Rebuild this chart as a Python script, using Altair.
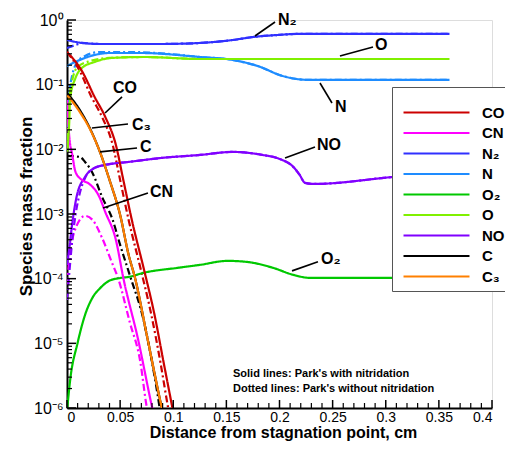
import altair as alt
import pandas as pd

# ---------------- data (x in cm, y as log10 of mass fraction) ----------------
species_order = ["CO", "CN", "N\u2082", "N", "O\u2082", "O", "NO", "C", "C\u2083"]
species_colors = ["#CC0000", "#FF00FF", "#3030FF", "#1E8CFF", "#00C800",
                  "#80F000", "#8000FF", "#000000", "#FF8000"]

CO_x = [0, 0.014, 0.026, 0.036, 0.046, 0.053, 0.061, 0.073, 0.082, 0.091, 0.099, 0.104]
CO_lg = [-0.495, -0.788, -1.190, -1.499, -1.932, -2.473, -3.091, -3.895, -4.529, -5.301, -5.981, -6.414]
COd_x = [0, 0.012, 0.023, 0.033, 0.043, 0.050, 0.058, 0.070, 0.079, 0.088, 0.095, 0.100]
COd_lg = [-0.495, -0.788, -1.190, -1.499, -1.932, -2.473, -3.091, -3.895, -4.529, -5.301, -5.981, -6.414]

CN_x = [0, 0.002, 0.005, 0.008, 0.014, 0.021, 0.030, 0.036, 0.046, 0.053, 0.067, 0.080, 0.085]
CN_lg = [-1.236, -1.777, -2.087, -2.349, -2.473, -2.535, -2.720, -2.968, -3.400, -3.988, -4.946, -5.981, -6.337]
CNd_x = [0, 0.002, 0.005, 0.009, 0.017, 0.024, 0.033, 0.042, 0.048, 0.059, 0.069, 0.075, 0.080]
CNd_lg = [-4.096, -3.740, -3.400, -3.184, -3.029, -3.091, -3.369, -3.740, -3.988, -4.668, -5.286, -5.981, -6.337]

N2_x = [0, 0.014, 0.031, 0.088, 0.125, 0.156, 0.175, 0.198, 0.216, 0.360]
N2_lg = [-0.309, -0.355, -0.371, -0.371, -0.355, -0.309, -0.263, -0.232, -0.216, -0.216]
N2d_x = [0, 0.008, 0.014, 0.031, 0.088, 0.125, 0.156, 0.175, 0.198, 0.216, 0.360]
N2d_lg = [-0.433, -0.386, -0.355, -0.371, -0.371, -0.355, -0.309, -0.263, -0.232, -0.216, -0.216]

N_x = [0, 0.012, 0.026, 0.040, 0.069, 0.125, 0.156, 0.182, 0.200, 0.216, 0.229, 0.360]
N_lg = [-0.711, -0.618, -0.541, -0.510, -0.510, -0.572, -0.618, -0.726, -0.850, -0.912, -0.927, -0.927]
Nd_x = [0, 0.002, 0.005, 0.009, 0.017, 0.031, 0.059, 0.097, 0.125, 0.156, 0.182, 0.200, 0.216, 0.229, 0.360]
Nd_lg = [-1.654, -1.159, -0.850, -0.665, -0.556, -0.495, -0.495, -0.526, -0.572, -0.618, -0.726, -0.850, -0.912, -0.927, -0.927]

O2_x = [0, 0.003, 0.010, 0.017, 0.0245, 0.031, 0.040, 0.050, 0.059, 0.072, 0.104, 0.125, 0.151, 0.169, 0.194, 0.213, 0.229, 0.360]
O2_lg = [-6.05, -5.564, -4.992, -4.560, -4.280, -4.150, -4.030, -3.990, -3.970, -3.910, -3.833, -3.787, -3.725, -3.740, -3.833, -3.941, -3.988, -3.988]

O_x = [0, 0.002, 0.003, 0.008, 0.014, 0.026, 0.042, 0.073, 0.125, 0.360]
O_lg = [-2.056, -1.623, -1.206, -0.896, -0.742, -0.649, -0.587, -0.572, -0.603, -0.603]
Od_x = [0, 0.002, 0.005, 0.010, 0.022, 0.040, 0.073, 0.125, 0.360]
Od_lg = [-1.855, -1.236, -0.927, -0.726, -0.634, -0.587, -0.572, -0.603, -0.603]

NO_x = [0, 0.002, 0.005, 0.009, 0.017, 0.026, 0.036, 0.058, 0.089, 0.125, 0.156, 0.184, 0.200, 0.213, 0.219, 0.224, 0.232, 0.307, 0.360]
NO_lg = [-3.787, -3.555, -3.138, -2.736, -2.427, -2.287, -2.241, -2.195, -2.133, -2.087, -2.040, -2.087, -2.148, -2.272, -2.396, -2.519, -2.535, -2.427, -2.349]
NOd_x = [0, 0.002, 0.005, 0.008, 0.011, 0.017, 0.026, 0.036, 0.058, 0.089, 0.125, 0.156, 0.184, 0.200, 0.213, 0.219, 0.224, 0.232, 0.307, 0.360]
NOd_lg = [-4.328, -3.941, -3.400, -3.014, -2.751, -2.442, -2.287, -2.241, -2.195, -2.133, -2.087, -2.040, -2.087, -2.148, -2.272, -2.396, -2.519, -2.535, -2.427, -2.349]

Cd_x = [0, 0.012, 0.017, 0.024, 0.033, 0.043, 0.050, 0.059, 0.072, 0.080, 0.087, 0.090]
Cd_lg = [-2.102, -2.117, -2.195, -2.365, -2.736, -3.091, -3.478, -3.941, -4.637, -5.286, -5.981, -6.337]

C3_x = [0, 0.012, 0.022, 0.031, 0.040, 0.050, 0.058, 0.064, 0.076, 0.089, 0.094]
C3_lg = [-1.159, -1.422, -1.700, -2.040, -2.473, -3.014, -3.632, -3.988, -4.946, -5.981, -6.337]
C_x = [0, 0.012, 0.022, 0.031, 0.040, 0.050, 0.058, 0.064, 0.076, 0.089, 0.094]
C_lg = [-1.128, -1.391, -1.690, -2.040, -2.473, -3.014, -3.632, -3.988, -4.946, -5.981, -6.337]

series = [
    ("CN", "dotted", CNd_x, CNd_lg), ("NO", "dotted", NOd_x, NOd_lg),
    ("N\u2082", "dotted", N2d_x, N2d_lg), ("N", "dotted", Nd_x, Nd_lg),
    ("O", "dotted", Od_x, Od_lg), ("CO", "dotted", COd_x, COd_lg),
    ("C", "dotted", Cd_x, Cd_lg),
    ("O\u2082", "solid", O2_x, O2_lg), ("NO", "solid", NO_x, NO_lg),
    ("CN", "solid", CN_x, CN_lg), ("N\u2082", "solid", N2_x, N2_lg),
    ("N", "solid", N_x, N_lg), ("O", "solid", O_x, O_lg),
    ("C", "solid", C_x, C_lg), ("C\u2083", "solid", C3_x, C3_lg),
    ("CO", "solid", CO_x, CO_lg),
]
rows = []
for i, (sp, st, xs, lgs) in enumerate(series):
    for x, l in zip(xs, lgs):
        rows.append({"x": x, "y": 10 ** l, "species": sp, "style": st, "key": f"{i:02d}"})
df = pd.DataFrame(rows)

# annotation labels (left edge, vertical middle) and leader lines
ann_text = ["CO", "C\u2083", "C", "CN", "N\u2082", "O", "N", "NO", "O\u2082"]
ann_x = [0.0433, 0.0612, 0.0687, 0.0781, 0.1986, 0.2899, 0.2522, 0.2353, 0.2390]
ann_y = [0.0889, 0.0238, 0.0109, 0.00220, 1.0, 0.411, 0.0452, 0.0117, 0.000202]
lead_x = [0.0518, 0.0574, 0.0659, 0.0762, 0.1958, 0.2880, 0.2494, 0.2334, 0.2362]
lead_y = [0.0646, 0.0247, 0.01051, 0.00212, 0.931, 0.383, 0.0521, 0.0109, 0.000182]
lead_x2 = [0.0358, 0.0235, 0.0311, 0.0339, 0.1769, 0.2569, 0.2381, 0.2052, 0.2118]
lead_y2 = [0.0365, 0.0214, 0.00912, 0.00124, 0.566, 0.278, 0.106, 0.00736, 0.000132]

note_text = ["Solid lines: Park's with nitridation", "Dotted lines: Park's without nitridation"]
note_x = [0.1562, 0.1562]
note_y = [3.38e-6, 1.98e-6]

x_ticks_major = [0, 0.05, 0.1, 0.15, 0.2, 0.25, 0.3, 0.35, 0.4]
x_ticks_minor = [0.01, 0.02, 0.03, 0.04, 0.06, 0.07, 0.08, 0.09, 0.11, 0.12, 0.13, 0.14,
                 0.16, 0.17, 0.18, 0.19, 0.21, 0.22, 0.23, 0.24, 0.26, 0.27, 0.28, 0.29,
                 0.31, 0.32, 0.33, 0.34, 0.36, 0.37, 0.38, 0.39]
y_ticks_major = [1e-6, 1e-5, 1e-4, 1e-3, 1e-2, 1e-1, 1]
y_ticks_minor = [m * d for d in [1e-6, 1e-5, 1e-4, 1e-3, 1e-2, 1e-1] for m in range(2, 10)]

FONT = "Liberation Sans"
W, H = 425, 388

xscale = alt.Scale(domain=[0, 0.4], nice=False)
yscale = alt.Scale(type="log", domain=[1e-6, 1], nice=False)

lines = alt.Chart(df).mark_line(strokeWidth=2.2, clip=True, interpolate="monotone").encode(
    x=alt.X("x:Q", scale=xscale, axis=alt.Axis(
        values=x_ticks_major, format="~g", ticks=False, tickSize=0, grid=False,
        domainColor="black", domainWidth=2, labelFont=FONT, labelFontSize=14,
        labelColor="black", labelPadding=2,
        title="Distance from stagnation point, cm", titleFont=FONT, titleFontSize=16,
        titleFontWeight="bold", titleColor="black", titleX=216, titleY=24,
        titleBaseline="middle")),
    y=alt.Y("y:Q", scale=yscale, axis=alt.Axis(
        values=y_ticks_major, ticks=False, tickSize=0, grid=False,
        labelExpr="['10\u2070','10\u207b\u00b9','10\u207b\u00b2','10\u207b\u00b3','10\u207b\u2074','10\u207b\u2075','10\u207b\u2076'][round(-log(datum.value)/LN10)]",
        domainColor="black", domainWidth=2, labelFont=FONT, labelFontSize=16,
        labelColor="black", labelPadding=4,
        title="Species mass fraction", titleFont=FONT, titleFontSize=17,
        titleFontWeight="bold", titleColor="black", titleX=-41, titleY=186,
        titleAngle=-90, titleBaseline="middle")),
    color=alt.Color("species:N", scale=alt.Scale(domain=species_order, range=species_colors),
                    legend=alt.Legend(
                        orient="none", legendX=325, legendY=67, title=" ",
                        titleFontSize=6, titlePadding=4, padding=6,
                        symbolType="M-4,0H4", symbolSize=272, symbolStrokeWidth=2.2,
                        symbolOffset=29, labelOffset=36, rowPadding=2.5,
                        labelFont=FONT, labelFontSize=15, labelFontWeight="bold",
                        labelColor="black", strokeColor="#555555", fillColor="white")),
    strokeDash=alt.StrokeDash("style:N", scale=alt.Scale(domain=["solid", "dotted"],
                              range=[[1, 0], [7, 3, 2, 3]]), legend=None),
    detail="key:N",
)

ytick_df = pd.DataFrame({"y": y_ticks_major + y_ticks_minor,
                         "len": ["major"] * len(y_ticks_major) + ["minor"] * len(y_ticks_minor)})
ytick_major = alt.Chart(ytick_df[ytick_df["len"] == "major"]).mark_rule(color="black", strokeWidth=1.5).encode(
    y="y:Q", x=alt.value(0), x2=alt.value(9))
ytick_minor = alt.Chart(ytick_df[ytick_df["len"] == "minor"]).mark_rule(color="black", strokeWidth=1.2).encode(
    y="y:Q", x=alt.value(0), x2=alt.value(5))

xtick_major = alt.Chart(pd.DataFrame({"x": x_ticks_major})).mark_rule(color="black", strokeWidth=1.5).encode(
    x="x:Q", y=alt.value(H), y2=alt.value(H - 8))
xtick_minor = alt.Chart(pd.DataFrame({"x": x_ticks_minor})).mark_rule(color="black", strokeWidth=1.2).encode(
    x="x:Q", y=alt.value(H), y2=alt.value(H - 5))

ann_df = pd.DataFrame({"x": ann_x, "y": ann_y, "label": ann_text})
lead_df = pd.DataFrame({"x": lead_x, "y": lead_y, "x2": lead_x2, "y2": lead_y2})
ann = alt.Chart(ann_df).mark_text(align="left", baseline="middle", font=FONT, fontSize=16,
                                  fontWeight="bold", color="black").encode(x="x:Q", y="y:Q", text="label:N")
leads = alt.Chart(lead_df).mark_rule(color="black", strokeWidth=1.6).encode(
    x="x:Q", y="y:Q", x2="x2:Q", y2="y2:Q")

note_df = pd.DataFrame({"x": note_x, "y": note_y, "label": note_text})
notes = alt.Chart(note_df).mark_text(align="left", baseline="middle", font=FONT, fontSize=11,
                                     fontWeight="bold", color="black").encode(x="x:Q", y="y:Q", text="label:N")

# svg kept to 497 x 434 so the page neither shrinks nor scrolls it
chart = alt.layer(lines, leads, ann, notes, ytick_major, ytick_minor, xtick_major, xtick_minor).properties(
    width=W, height=H,
    autosize=alt.AutoSizeParams(type="none"),
    padding={"left": 59, "top": 12, "right": 13, "bottom": 34},
).configure_view(stroke=None).configure(background="white")

chart.save("out.html", embed_options={"renderer": "svg", "actions": False})
